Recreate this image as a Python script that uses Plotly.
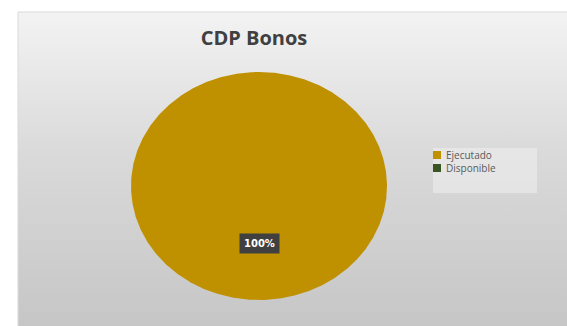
import numpy as np
import plotly.graph_objects as go

# Budget execution for the "CDP Bonos" line item (percent of total)
categories = ["Ejecutado", "Disponible"]
values = [100, 0]
slice_colors = ["#BF9000", "#375623"]
title_text = "CDP Bonos"

W, H = 567, 326
# pie centre and radii in pixels (the pie is drawn slightly wider than tall)
cx, cy = 259, 186
rx, ry = 128, 114


def to_data(px, py):
    """Convert a pixel position to the data space where the pie has unit radius."""
    return (px - cx) / rx, (cy - py) / ry


x_lo, y_hi = to_data(0, 0)
x_hi, y_lo = to_data(W, H)

fig = go.Figure()

# chart area with a soft vertical gray gradient
bx0, by0 = to_data(18, 12)
bx1, by1 = to_data(W + 2, H + 2)
fig.add_trace(go.Scatter(
    x=[bx0, bx1, bx1, bx0, bx0],
    y=[by0, by0, by1, by1, by0],
    mode="lines",
    fill="toself",
    line=dict(color="#d9d9d9", width=1),
    fillgradient=dict(type="vertical",
                      colorscale=[[0, "#c6c6c6"], [0.56, "#dadada"], [1, "#f3f3f3"]]),
    hoverinfo="skip",
    showlegend=False,
))

total = float(sum(values))
start = 0.0
annotations = []
shapes = []

# legend panel (pixel layout converted to paper fractions)
leg_x0, leg_y0, leg_x1, leg_y1 = 433, 148, 537, 193
shapes.append(dict(type="rect", xref="paper", yref="paper",
                   x0=leg_x0 / W, x1=leg_x1 / W,
                   y0=1 - leg_y1 / H, y1=1 - leg_y0 / H,
                   fillcolor="rgba(240,240,240,0.55)", line=dict(width=0),
                   layer="above"))
row_y0, row_step, sw = 155, 13, 8

for i, (name, val, col) in enumerate(zip(categories, values, slice_colors)):
    frac = val / total
    if frac > 0:
        n = max(3, int(frac * 720) + 1)
        theta = np.linspace(start, start + frac, n) * 2 * np.pi
        xs = np.sin(theta)
        ys = np.cos(theta)
        if frac < 1:
            xs = np.concatenate([[0], xs, [0]])
            ys = np.concatenate([[0], ys, [0]])
        fig.add_trace(go.Scatter(
            x=xs, y=ys, mode="lines", fill="toself",
            fillcolor=col, line=dict(width=0, color=col),
            name=name, showlegend=False,
            hovertemplate=f"{name}: {val}<extra></extra>",
        ))
        mid = (start + frac / 2) * 2 * np.pi
        annotations.append(dict(
            x=0.5 * np.sin(mid), y=0.5 * np.cos(mid), xref="x", yref="y",
            text=f"<b>{frac * 100:.0f}%</b>", showarrow=False,
            font=dict(family="DejaVu Sans", size=10, color="white"),
            bgcolor="#404040", borderpad=4,
        ))
    # legend entry: colour square and category name
    ry_c = row_y0 + i * row_step
    shapes.append(dict(type="rect", xref="paper", yref="paper",
                       x0=leg_x0 / W, x1=(leg_x0 + sw) / W,
                       y0=1 - (ry_c + sw / 2) / H, y1=1 - (ry_c - sw / 2) / H,
                       fillcolor=col, line=dict(width=0), layer="above"))
    annotations.append(dict(
        x=(leg_x0 + sw + 3) / W, y=1 - ry_c / H, xref="paper", yref="paper",
        xanchor="left", yanchor="middle", text=name, showarrow=False,
        font=dict(family="Open Sans", size=10, color="#595959"),
    ))
    start += frac

fig.update_layout(
    width=W, height=H,
    margin=dict(l=0, r=0, t=0, b=0),
    paper_bgcolor="white",
    plot_bgcolor="rgba(0,0,0,0)",
    xaxis=dict(range=[x_lo, x_hi], visible=False, fixedrange=True),
    yaxis=dict(range=[y_lo, y_hi], visible=False, fixedrange=True),
    title=dict(text=title_text, x=254 / W, y=1 - 38 / H,
               xanchor="center", yanchor="middle",
               font=dict(family="Open Sans", size=20, color="#404040", weight="bold")),
    annotations=annotations,
    shapes=shapes,
    showlegend=False,
)

fig.write_html("out.html")
